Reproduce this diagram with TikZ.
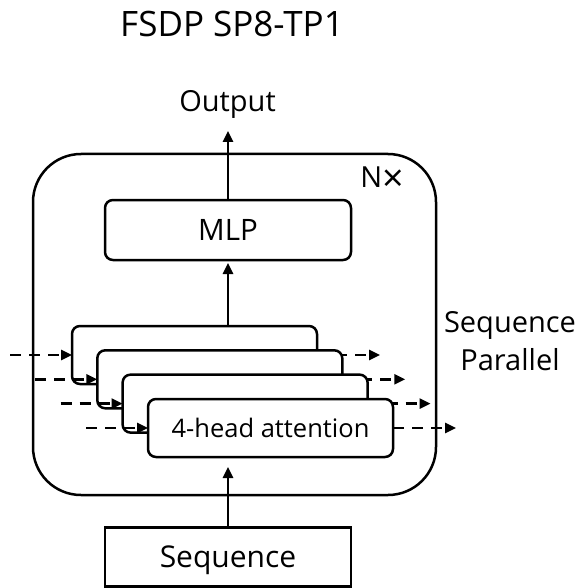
\documentclass[tikz,border=0pt]{standalone}
\usepackage{fontspec}
\setmainfont{Open Sans}
\usetikzlibrary{arrows.meta}
\begin{document}
\begin{tikzpicture}[x=1pt,y=-1pt,
  line width=2.5pt,
  tip/.style={-{Triangle[length=11pt,width=10pt]}},
  dsh/.style={tip, dash pattern=on 11pt off 8pt},
  lbl/.style={inner sep=0pt, outer sep=0pt, anchor=base, font=\fontsize{29}{38}\selectfont},
  blk/.style={draw, fill=white, rounded corners=8pt, minimum width=245pt, minimum height=58pt, inner sep=0pt, outer sep=0pt, anchor=north west},
  sqbox/.style={draw, fill=white, minimum width=246pt, minimum height=59pt, inner sep=0pt, outer sep=0pt}
]
\useasboundingbox (0,0) rectangle (584,588);

% title
\node[lbl, font=\fontsize{35}{40}\selectfont] (title) at (232,37) {FSDP SP8-TP1};

% outer repeated block
\node[draw, rounded corners=48pt, minimum width=403pt, minimum height=341pt, inner sep=0pt, outer sep=0pt] (outer) at (234.5,324.5) {};
\node[lbl] (nx) at (382,187) {N\raisebox{-4.5pt}{\scalebox{1.3}{×}}};

% MLP
\node[draw, fill=white, rounded corners=8pt, minimum width=246pt, minimum height=60pt, inner sep=0pt, outer sep=0pt, font=\fontsize{29.5}{34}\selectfont] (mlp) at (228,230) {MLP};

% output
\node[lbl] (output) at (227.5,112) {Output};
\coordinate (outtip) at (228,131);
\draw[tip] (mlp.north) -- (outtip);

% attention stack
\node[blk] (a1) at (72,326) {};
\draw[dsh] ([xshift=-62pt]a1.west) -- (a1.west);
\draw[dsh] (a1.east) -- ([xshift=63pt]a1.east);

\node[blk] (a2) at (97.3,350.3) {};
\draw[dsh] ([xshift=-62pt]a2.west) -- (a2.west);
\draw[dsh] (a2.east) -- ([xshift=63pt]a2.east);

\node[blk] (a3) at (122.6,374.6) {};
\draw[dsh] ([xshift=-62pt]a3.west) -- (a3.west);
\draw[dsh] (a3.east) -- ([xshift=63pt]a3.east);

\node[blk, font=\fontsize{25.5}{30}\selectfont] (a4) at (148,399) {4-head attention};
\draw[dsh] ([xshift=-62pt]a4.west) -- (a4.west);
\draw[dsh] (a4.east) -- ([xshift=63pt]a4.east);

\draw[tip, shorten >=3pt] (mlp.south |- a1.north) -- (mlp.south);

% sequence parallel label
\node[lbl, align=center] (sp) at (510,370) {Sequence\\Parallel};

% input sequence
\node[sqbox, font=\fontsize{30}{34}\selectfont, text height=21pt, text depth=0pt] (seq) at (228,557) {Sequence};
\draw[tip, shorten >=10pt] (seq.north) -- (seq.north |- a4.south);
\end{tikzpicture}
\end{document}
